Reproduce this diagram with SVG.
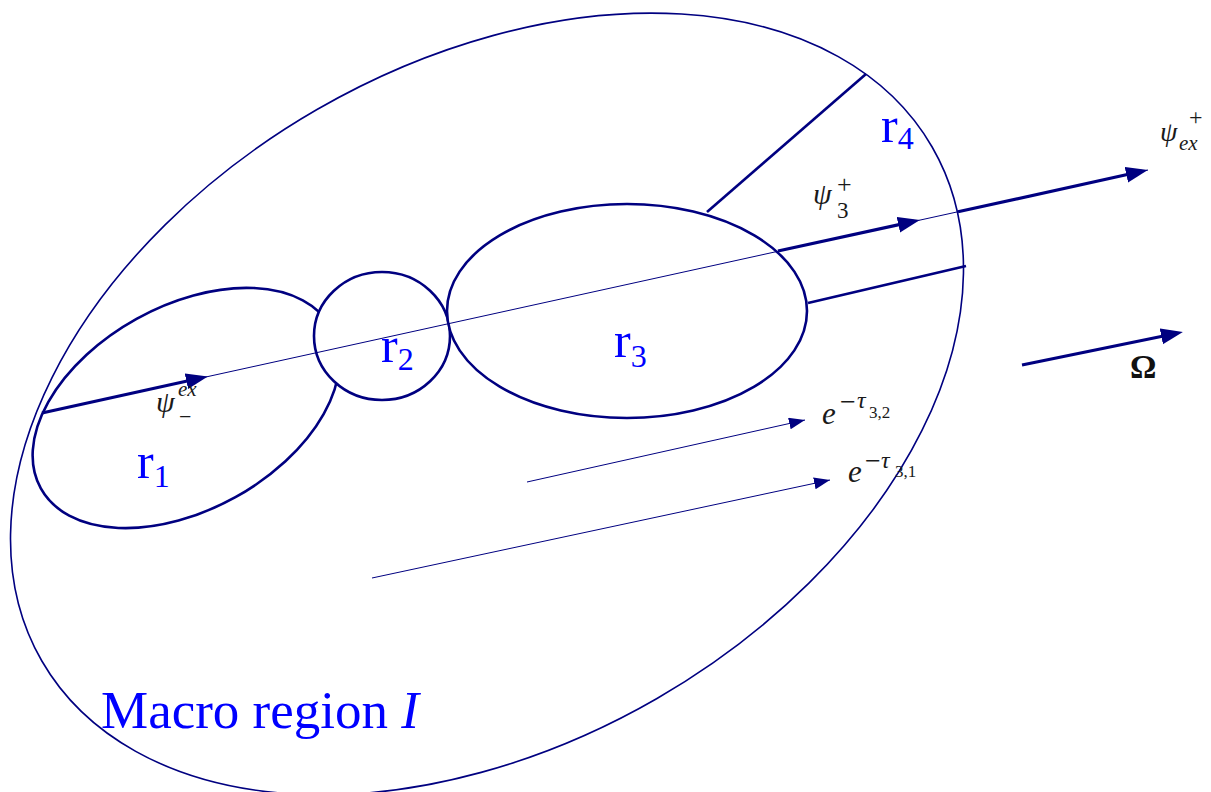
<svg xmlns="http://www.w3.org/2000/svg" width="1211" height="792" viewBox="0 0 1211 792">
<style>
.region{fill:#fff;stroke:#000080;stroke-width:2.6}
.outer{fill:none;stroke:#000080;stroke-width:1.6}
.thick{stroke:#000080;stroke-width:3.2;fill:none}
.thin{stroke:#000080;stroke-width:1;fill:none}
.wall{stroke:#000080;stroke-width:2.6;fill:none}
.lbl{font-family:"Liberation Serif","Times New Roman",serif;fill:#0000ff}
.math{font-family:"Liberation Serif","Times New Roman",serif;fill:#1a1a1a;font-style:italic}
.up{font-style:normal}
</style>
<defs>
<marker id="ah" markerUnits="userSpaceOnUse" markerWidth="24" markerHeight="18" refX="16" refY="8" orient="auto">
<path d="M0,0 L22,8 L0,16 z" fill="#000080"/>
</marker>
<marker id="ahs" markerUnits="userSpaceOnUse" markerWidth="18" markerHeight="14" refX="16" refY="6" orient="auto">
<path d="M0,0 L16,6 L0,12 z" fill="#000080"/>
</marker>
</defs>
<g id="macro-region">
<ellipse class="outer" cx="487" cy="404" rx="514" ry="340" transform="rotate(-30 487 404)"/>
<text class="lbl" x="101" y="728" font-size="53">Macro region <tspan font-style="italic">I</tspan></text>
</g>
<g id="r1">
<ellipse class="region" cx="186" cy="408" rx="166" ry="102" transform="rotate(-29 186 408)"/>
<text class="lbl" x="137" y="478" font-size="50">r<tspan font-size="32" dy="9">1</tspan></text>
</g>
<g id="r2">
<ellipse class="region" cx="382" cy="336" rx="68" ry="64"/>
<text class="lbl" x="381" y="362" font-size="50">r<tspan font-size="32" dy="8">2</tspan></text>
</g>
<g id="r3">
<ellipse class="region" cx="627" cy="311" rx="180" ry="107"/>
<text class="lbl" x="614" y="357" font-size="50">r<tspan font-size="32" dy="10">3</tspan></text>
</g>
<g id="r4">
<line class="wall" x1="707" y1="212" x2="866" y2="74"/>
<line class="wall" x1="808" y1="303" x2="966" y2="266"/>
<text class="lbl" x="881" y="142" font-size="50">r<tspan font-size="32" dy="7">4</tspan></text>
</g>
<g id="connectors">
<line class="thin" x1="42" y1="413" x2="1148" y2="170"/>
<line class="thick" x1="42" y1="413" x2="202" y2="377.8" marker-end="url(#ah)"/>
<line class="thick" x1="778" y1="251" x2="914" y2="221.4" marker-end="url(#ah)"/>
<line class="thick" x1="958" y1="211.8" x2="1142" y2="171.3" marker-end="url(#ah)"/>
<line class="thick" x1="1022" y1="365" x2="1177" y2="333.2" marker-end="url(#ah)"/>
<line class="thin" x1="527" y1="482" x2="805" y2="420" marker-end="url(#ahs)"/>
<line class="thin" x1="372" y1="578" x2="830" y2="480" marker-end="url(#ahs)"/>
</g>
<g id="labels">
<text class="math" font-size="30"><tspan x="156" y="412">ψ</tspan><tspan x="178" y="396" font-size="21">ex</tspan><tspan class="up" x="179" y="424" font-size="22">−</tspan></text>
<text class="math" font-size="30"><tspan x="813" y="204">ψ</tspan><tspan class="up" x="837" y="193" font-size="26">+</tspan><tspan class="up" x="837" y="218" font-size="23">3</tspan></text>
<text class="math" font-size="28"><tspan x="1160" y="141">ψ</tspan><tspan class="up" x="1189" y="125" font-size="24">+</tspan><tspan x="1179" y="150" font-size="21">ex</tspan></text>
<text class="math" font-size="31"><tspan x="822" y="424">e</tspan><tspan class="up" x="840" y="411" font-size="28">−</tspan><tspan x="857" y="408" font-size="24">τ</tspan><tspan class="up" x="869" y="418" font-size="17">3,2</tspan></text>
<text class="math" font-size="31"><tspan x="848" y="482">e</tspan><tspan class="up" x="865" y="470" font-size="28">−</tspan><tspan x="881" y="468" font-size="24">τ</tspan><tspan class="up" x="895" y="477" font-size="17">3,1</tspan></text>
<text x="1130" y="378" font-size="33" font-weight="bold" font-family="Liberation Serif,Times New Roman,serif" fill="#111">Ω</text>
</g>
</svg>
